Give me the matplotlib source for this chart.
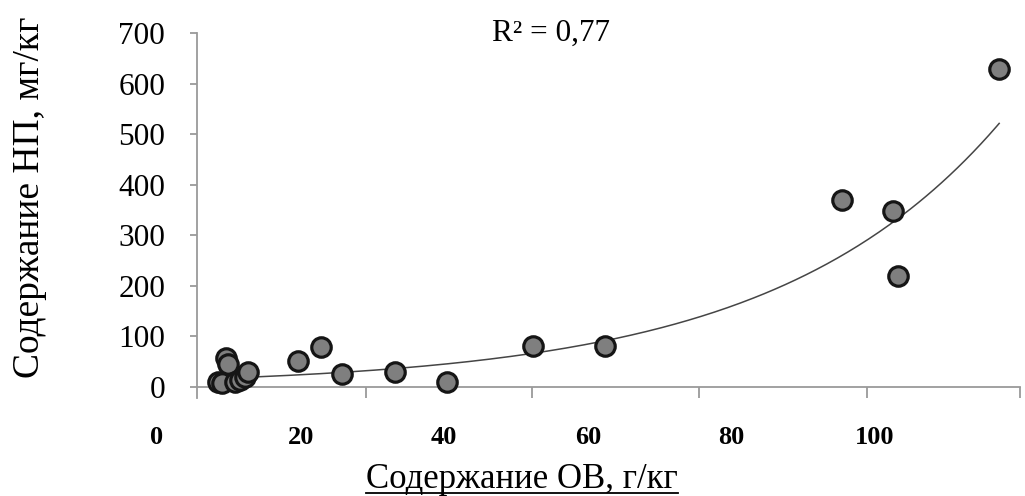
import numpy as np
import matplotlib
matplotlib.use("Agg")
import matplotlib.pyplot as plt
from matplotlib.lines import Line2D
import matplotlib.transforms as mtransforms

plt.rcParams['font.family'] = ['Liberation Serif', 'DejaVu Serif']

# Data (organic matter g/kg vs petroleum products mg/kg)
ov = [9.65, 9.9, 8.5, 9.0, 10.9, 11.5, 12.3, 12.7, 19.7, 22.9, 25.8, 33.2,
      40.4, 52.4, 62.4, 95.4, 102.5, 103.2, 117.3]
np_vals = [57, 45, 10, 8, 10, 13, 20, 30, 50, 78, 25, 30,
           10, 80, 80, 370, 348, 219, 628]

# exponential trend y = a * exp(b * x), as shown in the chart
trend_a = 12.5
trend_b = 0.0318

x_tick_marks = [29.1, 52.2, 75.5, 98.9, 120.2]
x_label_vals = [0, 20, 40, 60, 80, 100]
y_ticks = [0, 100, 200, 300, 400, 500, 600, 700]
r2_text = "R² = 0,77"

fig = plt.figure(figsize=(10.25, 4.96), dpi=100)
ax = fig.add_axes([197/1025, 1 - 398/496, (1020-197)/1025, (398-33)/496])

ax.set_xlim(5.57, 120.2)
ax.set_ylim(-22.4, 700)

xa = np.array(ov)
xt = np.linspace(xa.min(), xa.max(), 300)
ax.plot(xt, trend_a * np.exp(trend_b * xt), color='#454545', lw=1.1, zorder=2)

ax.plot(ov, np_vals, 'o', ms=14, mfc='#7f7f7f', mec='#151515', mew=2.3,
        zorder=3, clip_on=False)

for s in ['top', 'right']:
    ax.spines[s].set_visible(False)
ax.spines['bottom'].set_position(('data', 0))
for s in ['bottom', 'left']:
    ax.spines[s].set_color('#9a9a9a')
    ax.spines[s].set_linewidth(1.3)
ax.spines['bottom'].set_zorder(1)

ax.set_xticks(x_tick_marks)
ax.set_xticklabels([])
ax.tick_params(axis='x', direction='out', length=8, width=1.3, color='#9a9a9a')
ax.set_yticks(y_ticks)
ax.tick_params(axis='y', direction='out', length=5, width=1.3, color='#9a9a9a',
               labelsize=22.5, pad=18)

trans = mtransforms.blended_transform_factory(ax.transData, ax.transAxes)
for v in x_label_vals:
    ax.text(v, -0.107, str(v), transform=trans, ha='center', va='center',
            fontsize=19, fontweight='bold', clip_on=False)

fig.text(30/1025, 1 - 197/496, "Содержание НП, мг/кг", rotation=90,
         ha='center', va='center', fontsize=27)
xl = fig.text(522/1025, 1 - 479/496, "Содержание ОВ, г/кг", ha='center',
              va='center', fontsize=25)
fig.text(551/1025, 1 - 33/496, r2_text, ha='center', va='center', fontsize=22.5)

# underline x label
fig.canvas.draw()
bb = xl.get_window_extent().transformed(fig.transFigure.inverted())
fig.add_artist(Line2D([bb.x0, bb.x1], [1 - 493/496] * 2, color='black', lw=1.3,
                      transform=fig.transFigure))

fig.savefig("out.png", dpi=100)
